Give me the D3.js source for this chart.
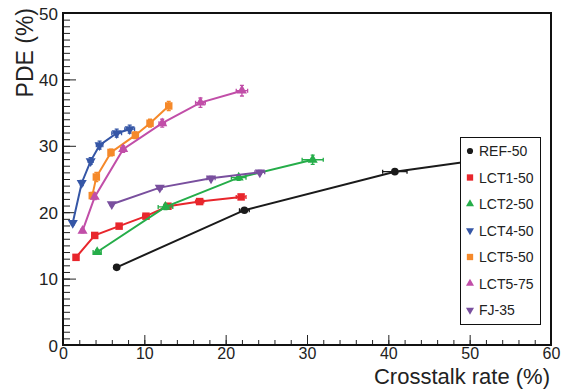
<!DOCTYPE html>
<html>
<head>
<meta charset="utf-8">
<script src="https://cdn.jsdelivr.net/npm/d3@7"></script>
<style>
  body { margin: 0; background: #fff; }
  svg { font-family: "Liberation Sans", Arial, sans-serif; }
</style>
</head>
<body>
<svg id="chart"></svg>
<script>
const width = 564, height = 389

// data: crosstalk rate (%) vs PDE (%)
const refX = [6.6, 22.3, 40.8, 55.0]
const refY = [11.7, 20.3, 26.1, 28.5]
const refXErr = [0.3, 0.6, 1.5, 1.5]
const refYErr = [0.3, 0.3, 0.3, 0.3]

const lct1X = [1.6, 3.9, 6.9, 10.2, 12.9, 16.8, 21.9]
const lct1Y = [13.2, 16.5, 17.9, 19.4, 20.9, 21.6, 22.3]
const lct1XErr = [0.1, 0.2, 0.2, 0.4, 0.5, 0.5, 0.6]
const lct1YErr = [0.2, 0.3, 0.3, 0.3, 0.3, 0.3, 0.3]

const lct2X = [4.2, 12.6, 21.6, 30.7]
const lct2Y = [14.0, 20.8, 25.2, 27.9]
const lct2XErr = [0.5, 0.9, 0.9, 1.3]
const lct2YErr = [0.3, 0.4, 0.4, 0.7]

const lct4X = [1.2, 2.3, 3.4, 4.5, 6.6, 8.2]
const lct4Y = [18.4, 24.4, 27.7, 30.1, 31.9, 32.5]
const lct4XErr = [0.1, 0.1, 0.3, 0.4, 0.6, 0.6]
const lct4YErr = [0.3, 0.4, 0.5, 0.6, 0.6, 0.6]

const lct5aX = [3.6, 4.1, 5.9, 8.9, 10.7, 13.0]
const lct5aY = [22.5, 25.3, 29.0, 31.6, 33.4, 36.0]
const lct5aXErr = [0.1, 0.2, 0.2, 0.3, 0.3, 0.3]
const lct5aYErr = [0.5, 0.7, 0.5, 0.5, 0.6, 0.7]

const lct5bX = [2.4, 3.9, 7.4, 12.2, 16.9, 22.0]
const lct5bY = [17.2, 22.3, 29.5, 33.4, 36.5, 38.3]
const lct5bXErr = [0.1, 0.2, 0.3, 0.4, 0.6, 0.7]
const lct5bYErr = [0.3, 0.4, 0.5, 0.6, 0.7, 0.8]

const fjX = [6.0, 11.9, 18.2, 24.2]
const fjY = [21.2, 23.7, 25.1, 26.0]
const fjXErr = [0.2, 0.3, 0.5, 0.6]
const fjYErr = [0.2, 0.3, 0.3, 0.3]

const xTicks = [0, 10, 20, 30, 40, 50, 60]
const yTicks = [0, 10, 20, 30, 40, 50]

// styles kept apart from the values
const series = [
    { name: "REF-50",  xs: refX,  ys: refY,  xe: refXErr,  ye: refYErr,  color: "#1a1a1a", shape: "circle" },
    { name: "LCT1-50", xs: lct1X, ys: lct1Y, xe: lct1XErr, ye: lct1YErr, color: "#e8262c", shape: "square" },
    { name: "LCT2-50", xs: lct2X, ys: lct2Y, xe: lct2XErr, ye: lct2YErr, color: "#25ad49", shape: "up" },
    { name: "LCT4-50", xs: lct4X, ys: lct4Y, xe: lct4XErr, ye: lct4YErr, color: "#3556a6", shape: "down" },
    { name: "LCT5-50", xs: lct5aX, ys: lct5aY, xe: lct5aXErr, ye: lct5aYErr, color: "#f5892a", shape: "square" },
    { name: "LCT5-75", xs: lct5bX, ys: lct5bY, xe: lct5bXErr, ye: lct5bYErr, color: "#c14ea8", shape: "up" },
    { name: "FJ-35",   xs: fjX,   ys: fjY,   xe: fjXErr,   ye: fjYErr,   color: "#794f9e", shape: "down" }
]

const plotLeft = 63, plotRight = 551, plotTop = 13, plotBottom = 345

const svg = d3.select("#chart")
    .attr("width", width)
    .attr("height", height)

const x = d3.scaleLinear().domain([0, 60]).range([plotLeft, plotRight])
const y = d3.scaleLinear().domain([0, 50]).range([plotBottom, plotTop])

function symbolPath(shape, size) {
    if (shape == "circle") return d3.symbol(d3.symbolCircle, size)()
    if (shape == "square") return d3.symbol(d3.symbolSquare, size)()
    return d3.symbol(d3.symbolTriangle, size)()
}

// axes, ticks drawn inward like the original
let xMinor = svg.append("g")
    .attr("transform", `translate(0,${plotBottom})`)
    .call(d3.axisBottom(x).tickValues(d3.range(0, 61, 2)).tickSize(-5).tickFormat(""))
let xMajor = svg.append("g")
    .attr("transform", `translate(0,${plotBottom})`)
    .call(d3.axisBottom(x).tickValues(xTicks).tickSize(-10).tickPadding(3).tickFormat(d3.format("d")))
let yMinor = svg.append("g")
    .attr("transform", `translate(${plotLeft},0)`)
    .call(d3.axisLeft(y).tickValues(d3.range(0, 51, 1)).tickSize(-7).tickFormat(""))
let yMajor = svg.append("g")
    .attr("transform", `translate(${plotLeft},0)`)
    .call(d3.axisLeft(y).tickValues(yTicks).tickSize(-13).tickPadding(5).tickFormat(d3.format("d")))

for (let g of [xMinor, xMajor, yMinor, yMajor]) {
    g.select(".domain").remove()
    g.selectAll("line").attr("stroke", "#222").attr("stroke-width", 1)
    g.selectAll("text").attr("font-size", 16).attr("fill", "#222")
        .style("font-family", "'Liberation Sans', Arial, sans-serif")
}
yMajor.selectAll("text").attr("font-size", 17).attr("dy", "0.36em")

// data lines, error bars, markers
let plot = svg.append("g")
for (let s of series) {
    let pts = s.xs.map((v, i) => ({ x: v, y: s.ys[i], xe: s.xe[i], ye: s.ye[i] }))
    plot.append("path")
        .datum(pts)
        .attr("fill", "none")
        .attr("stroke", s.color)
        .attr("stroke-width", 2)
        .attr("d", d3.line().x(d => x(d.x)).y(d => y(d.y)))

    let err = plot.append("g").attr("stroke", s.color).attr("stroke-width", 1.3)
    err.selectAll(".ex").data(pts).enter().append("path")
        .attr("d", d => {
            let x0 = x(d.x - d.xe), x1 = x(d.x + d.xe), yy = y(d.y)
            return `M${x0},${yy}H${x1}M${x0},${yy - 2}V${yy + 2}M${x1},${yy - 2}V${yy + 2}`
        })
    err.selectAll(".ey").data(pts).enter().append("path")
        .attr("d", d => {
            let y0 = y(d.y - d.ye), y1 = y(d.y + d.ye), xx = x(d.x)
            return `M${xx},${y0}V${y1}M${xx - 2},${y0}H${xx + 2}M${xx - 2},${y1}H${xx + 2}`
        })

    let size = s.shape == "circle" ? 46 : (s.shape == "square" ? 56 : 44)
    plot.append("g").selectAll("path").data(pts).enter().append("path")
        .attr("fill", s.color)
        .attr("d", symbolPath(s.shape, size))
        .attr("transform", d => `translate(${x(d.x)},${y(d.y)})` + (s.shape == "down" ? " rotate(180)" : ""))
}

// frame
svg.append("rect")
    .attr("x", plotLeft).attr("y", plotTop)
    .attr("width", plotRight - plotLeft).attr("height", plotBottom - plotTop)
    .attr("fill", "none").attr("stroke", "#111").attr("stroke-width", 2)

// axis titles
svg.append("text")
    .attr("x", 550).attr("y", 384)
    .attr("text-anchor", "end")
    .attr("font-size", 22).attr("fill", "#222")
    .text("Crosstalk rate (%)")
svg.append("text")
    .attr("transform", "translate(33,8) rotate(-90)")
    .attr("text-anchor", "end")
    .attr("font-size", 23).attr("fill", "#222")
    .text("PDE (%)")

// legend
let legend = svg.append("g")
legend.append("rect")
    .attr("x", 460.5).attr("y", 137.5)
    .attr("width", 80).attr("height", 187)
    .attr("fill", "#fff").attr("stroke", "#111").attr("stroke-width", 1)
let entry = legend.selectAll(".entry").data(series).enter().append("g")
    .attr("transform", (d, i) => `translate(470,${151 + i * 26.5})`)
entry.append("path")
    .attr("fill", d => d.color)
    .attr("d", d => symbolPath(d.shape, d.shape == "circle" ? 30 : (d.shape == "square" ? 40 : 28)))
    .attr("transform", d => d.shape == "down" ? "rotate(180)" : "")
entry.append("text")
    .attr("x", 9).attr("dy", "0.36em")
    .attr("font-size", 14).attr("fill", "#222")
    .text(d => d.name)
</script>
</body>
</html>
